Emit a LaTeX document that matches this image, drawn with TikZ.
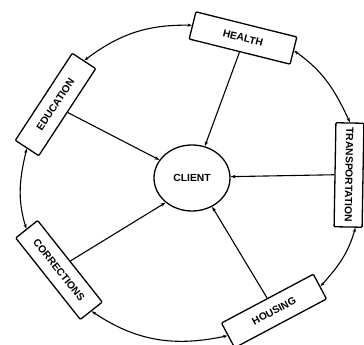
\documentclass[tikz,border=0pt]{standalone}
\usepackage{fontspec}
\setmainfont{Liberation Sans}
\usetikzlibrary{shapes.geometric,arrows.meta,calc}
\begin{document}
\begin{tikzpicture}[x=1pt,y=1pt,
  lbl/.style={font=\fontsize{10.3}{12}\selectfont\bfseries},
  agency/.style={draw, lbl, line width=1.3pt, rounded corners=1pt,
    minimum width=104pt, minimum height=28pt, inner sep=0pt},
  link/.style={line width=1.1pt, -{Stealth[length=5pt,width=3.5pt]}},
  ring/.style={line width=1.1pt,
    {Stealth[length=4.5pt,width=3.2pt]}-{Stealth[length=4.5pt,width=3.2pt]}}]
\useasboundingbox (0,0) rectangle (364,345);
\node[draw, ellipse, lbl, line width=1.3pt, minimum width=76pt,
  minimum height=66pt, inner sep=0pt] (client) at (192,167) {CLIENT};
\node[agency, rotate=-14] (health) at (243,307) {HEALTH};
\node[agency, rotate=-91] (trans) at (349,170) {TRANSPORTATION};
\node[agency, rotate=28] (housing) at (274,34) {HOUSING};
\node[agency, rotate=-51.6] (corr) at (59,75) {CORRECTIONS};
\node[agency, rotate=56.8] (edu) at (55.5,240.5) {EDUCATION};
% spokes
\draw[link] (health.south) -- (client.68);
\draw[link] (edu.south) -- (client.151);
\draw[link] (trans.south) -- (client.2);
\draw[link] (housing.north) -- (client.-55);
\draw[link] (corr.north) -- (client.223);
% ring
\draw[ring] (housing.east) to[out=48,in=254] ($(trans.east)!0.5!(trans.north east)$);
\draw[ring] (trans.west) to[out=115,in=-35] (health.east);
\draw[ring] (health.west) to[out=179,in=37] (edu.east);
\draw[ring] (edu.west) to[out=257,in=107] (corr.west);
\draw[ring] (corr.east) to[out=-34,in=192] (housing.west);
\end{tikzpicture}
\end{document}
